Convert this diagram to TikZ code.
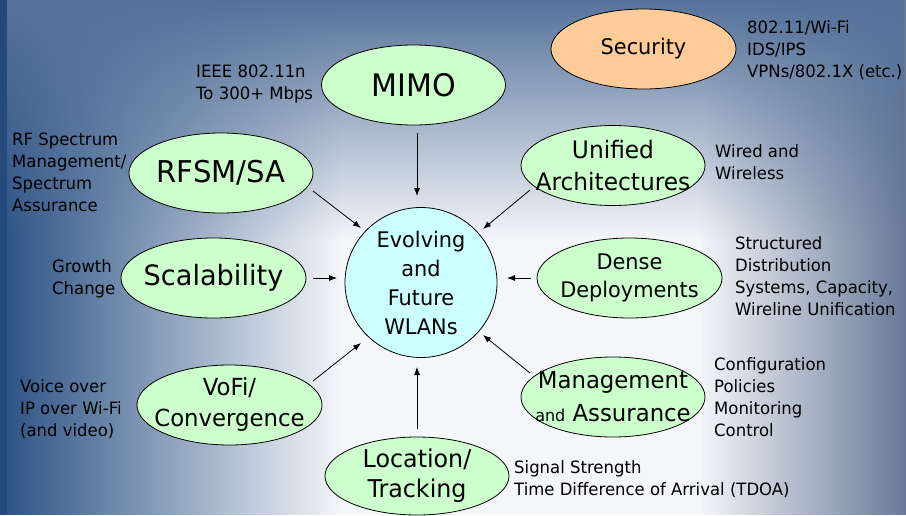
\documentclass[tikz,border=0pt]{standalone}
\usepackage{fontspec}
\setmainfont{DejaVu Sans}[FakeStretch=0.97]
\usetikzlibrary{shapes.geometric,arrows.meta,calc,fadings}
\definecolor{ellg}{HTML}{CCFFCC}
\definecolor{ello}{HTML}{FFCC99}
\definecolor{ellc}{HTML}{CCFFFF}
\definecolor{bgbase}{HTML}{F4F6F9}
\definecolor{bgleft}{HTML}{2F5585}
\definecolor{bgright}{HTML}{687A98}
\definecolor{bgtop}{HTML}{55729A}
\definecolor{bgstrip}{HTML}{24497A}
\tikzfading[name=fadeR, left color=transparent!0, middle color=transparent!65, right color=transparent!100]
\tikzfading[name=fadeL, left color=transparent!100, middle color=transparent!70, right color=transparent!0]
\tikzfading[name=fadeD, top color=transparent!0, middle color=transparent!70, bottom color=transparent!100]
\begin{document}
\begin{tikzpicture}[x=1pt,y=-1pt,
  ell/.style={ellipse, draw=black, line width=0.8pt, fill=ellg, minimum width=184pt, minimum height=80pt, inner sep=0pt},
  lab/.style={align=center, inner sep=0pt},
  side/.style={anchor=base west, align=left, inner sep=0pt, font=\fontsize{17}{22}\selectfont},
  arr/.style={line width=0.8pt, -{Latex[length=8pt,width=6pt]}}]
\useasboundingbox (0,0) rectangle (906,515);
% background
\fill[bgbase] (0,0) rectangle (906,515);
\fill[bgleft, path fading=fadeR] (7,0) rectangle (340,515);
\fill[bgright, path fading=fadeL] (700,0) rectangle (906,515);
\fill[bgtop, path fading=fadeD] (0,0) rectangle (906,240);
\fill[bgstrip] (0,0) rectangle (7,515);
% nodes
\node[ellipse, draw=black, line width=0.8pt, fill=ellc, minimum width=152pt, minimum height=150pt, inner sep=0pt,
  label={[lab, font=\fontsize{21.5}{29}\selectfont]center:Evolving\\and\\Future\\WLANs}] (c) at (421,282.5) {};
\node[ell, label={[lab, font=\fontsize{31}{36}\selectfont]center:MIMO}] (mimo) at (413.5,85) {};
\node[ell, fill=ello, minimum width=185pt, label={[lab, font=\fontsize{21.5}{28}\selectfont]center:Security}] (sec) at (643.5,49) {};
\node[ell, label={[lab, font=\fontsize{24}{32}\selectfont]center:Unified\\Architectures}] (uni) at (613,165.5) {};
\node[ell, label={[lab, font=\fontsize{30}{34}\selectfont]center:RFSM/SA}] (rfsm) at (221,173) {};
\node[ell, minimum width=185pt, label={[lab, font=\fontsize{28}{34}\selectfont]center:Scalability}] (scal) at (213.5,278) {};
\node[ell, minimum width=185pt, label={[lab, font=\fontsize{21.5}{28}\selectfont]center:Dense\\Deployments}] (dense) at (629.5,278) {};
\node[ell, minimum width=185pt, label={[lab, font=\fontsize{23.5}{31}\selectfont]center:VoFi/\\Convergence}] (vofi) at (229.5,405) {};
\node[ell, label={[lab, font=\fontsize{23.5}{33}\selectfont]center:Management\\{\fontsize{16.5}{20}\selectfont and} Assurance}] (mgmt) at (613,397) {};
\node[ell, minimum height=78pt, label={[lab, font=\fontsize{24.5}{30}\selectfont]center:Location/\\Tracking}] (loc) at (417,476) {};
% side texts (anchored at the baseline of the last line)
\node[side] (tmimo) at (196,99) {IEEE 802.11n\\To 300+ Mbps};
\node[side] (tsec) at (747,77) {802.11/Wi-Fi\\IDS/IPS\\VPNs/802.1X (etc.)};
\node[side] (tuni) at (715,179) {Wired and\\Wireless};
\node[side] (trfsm) at (12,211) {RF Spectrum\\Management/\\Spectrum\\Assurance};
\node[side] (tscal) at (52,294) {Growth\\Change};
\node[side] (tdense) at (735,315) {Structured\\Distribution\\Systems, Capacity,\\Wireline Unification};
\node[side] (tvofi) at (20,436) {Voice over\\IP over Wi-Fi\\(and video)};
\node[side] (tmgmt) at (714,436) {Configuration\\Policies\\Monitoring\\Control};
\node[side] (tloc) at (514,495) {Signal Strength\\Time Difference of Arrival (TDOA)};
% arrows
\draw[arr] ($(mimo.center)+(3.5,48)$) -- ($(c.center)+(-4,-86.5)$);
\draw[arr] ($(rfsm.center)+(92,18)$) -- ($(c.center)+(-60,-54.5)$);
\draw[arr] ($(uni.center)+(-83,24.5)$) -- ($(c.center)+(62,-53.5)$);
\draw[arr] ($(scal.center)+(99.5,0)$) -- ($(c.center)+(-84,-4.5)$);
\draw[arr] ($(dense.center)+(-99,0)$) -- ($(c.center)+(86,-4.5)$);
\draw[arr] ($(vofi.center)+(83.5,-24)$) -- ($(c.center)+(-60,60.5)$);
\draw[arr] ($(mgmt.center)+(-83,-24)$) -- ($(c.center)+(62,52.5)$);
\draw[arr] ($(loc.center)+(0,-47)$) -- ($(c.center)+(-4,84.5)$);
\end{tikzpicture}
\end{document}
